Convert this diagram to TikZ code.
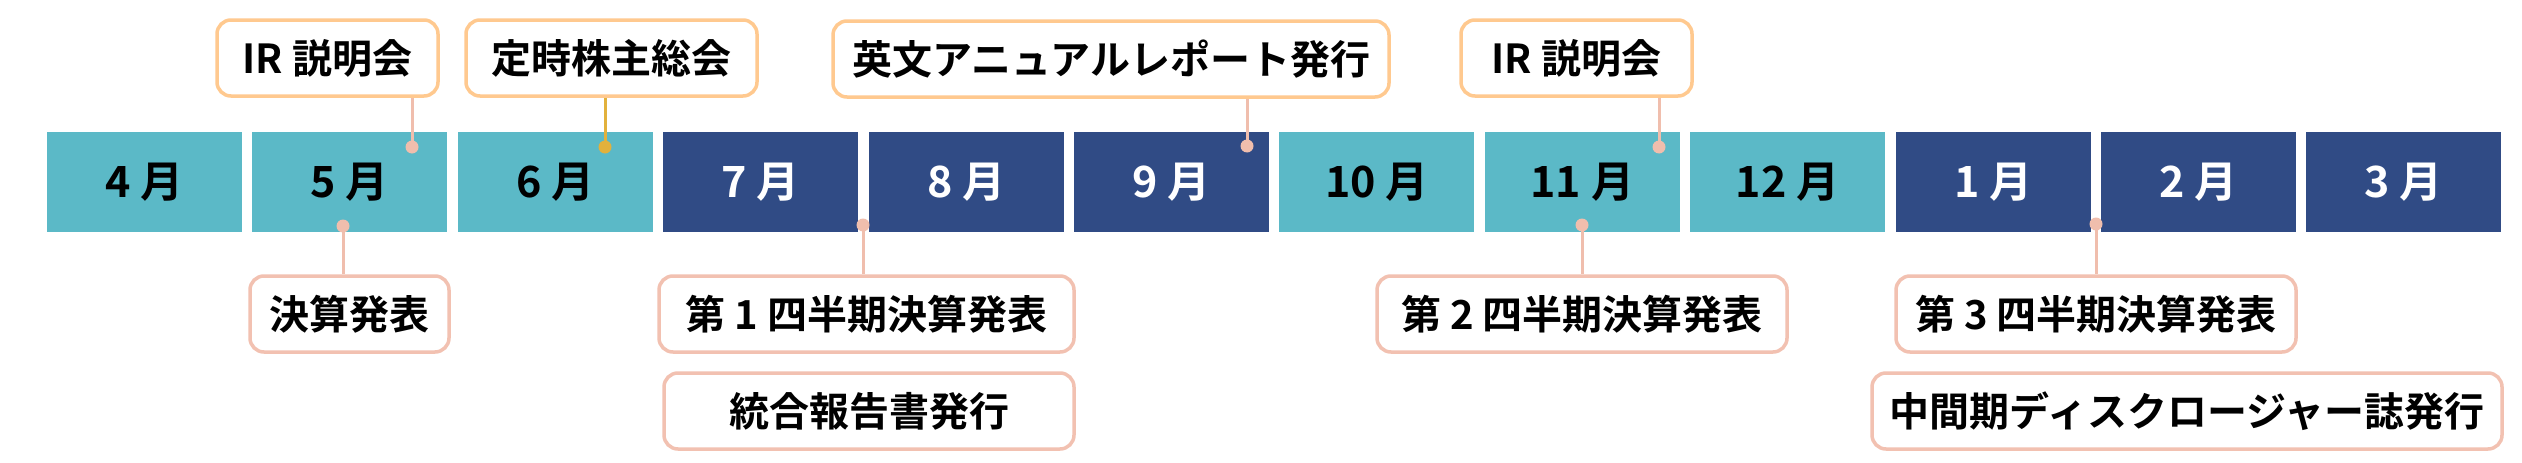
\documentclass[tikz,border=0pt]{standalone}
\usepackage{fontspec}
\usetikzlibrary{shapes.geometric}
\newfontfamily\jp{Noto Sans CJK JP Bold}
\definecolor{teal1}{HTML}{5BB9C7}
\definecolor{navy1}{HTML}{304B85}
\definecolor{orange1}{HTML}{FFC98F}
\definecolor{salmon1}{HTML}{F2C1B1}
\definecolor{pink1}{HTML}{F0BEAD}
\definecolor{gold1}{HTML}{E2B13C}
\begin{document}
\begin{tikzpicture}[x=1pt,y=-1pt,
  month/.style={minimum width=195pt, minimum height=100pt, inner sep=0pt, outer sep=0pt, font=\jp\fontsize{43}{48}\selectfont},
  tealm/.style={month, fill=teal1, text=black},
  navym/.style={month, fill=navy1, text=white},
  callout/.style={draw, line width=3.5pt, rounded corners=14pt, fill=white, inner sep=0pt, minimum height=76pt, font=\jp\fontsize{40}{46}\selectfont},
  topbox/.style={callout, draw=orange1},
  botbox/.style={callout, draw=salmon1},
  dotn/.style={circle, fill=pink1, minimum size=13pt, inner sep=0pt},
  conn/.style={line width=3pt, draw=pink1}
]
\useasboundingbox[fill=white] (0,0) rectangle (2522,463);
% months
\foreach \i/\t/\s in {0/4/tealm,1/5/tealm,2/6/tealm,3/7/navym,4/8/navym,5/9/navym,6/10/tealm,7/11/tealm,8/12/tealm,9/1/navym,10/2/navym,11/3/navym}
  \node[\s] (m\i) at ({144.5+\i*205.4},182) {\t\ 月};
% top callouts
\node[topbox, minimum width=221pt] (ir1) at (327.5,58) {IR 説明会};
\node[topbox, minimum width=291pt] (agm) at (611.5,58) {定時株主総会};
\node[topbox, minimum width=556pt] (ar) at (1111,59) {英文アニュアルレポート発行};
\node[topbox, minimum width=231pt] (ir2) at (1576.5,58) {IR 説明会};
% bottom callouts
\node[botbox, minimum width=199pt] (kes) at (349.5,314) {決算発表};
\node[botbox, minimum width=415pt] (q1) at (866.5,314) {第 1 四半期決算発表};
\node[botbox, minimum width=410pt] (tg) at (869,411) {統合報告書発行};
\node[botbox, minimum width=410pt] (q2) at (1582,314) {第 2 四半期決算発表};
\node[botbox, minimum width=400pt] (q3) at (2096,314) {第 3 四半期決算発表};
\node[botbox, minimum width=630pt] (ch) at (2187,411) {中間期ディスクロージャー誌発行};
% dots
\coordinate (dir1) at (412,147);
\coordinate (dagm) at (605,147);
\coordinate (dar) at (1247,146);
\coordinate (dir2) at (1659,147);
\coordinate (dkes) at (343,226);
\coordinate (dq1) at (863,225);
\coordinate (dq2) at (1582,225);
\coordinate (dq3) at (2096,224);
% connectors
\draw[conn] (dir1 |- ir1.south) -- (dir1);
\draw[conn, draw=gold1] (dagm |- agm.south) -- (dagm);
\draw[conn] (dar |- ar.south) -- (dar);
\draw[conn] (dir2 |- ir2.south) -- (dir2);
\draw[conn] (dkes) -- (dkes |- kes.north);
\draw[conn] (dq1) -- (dq1 |- q1.north);
\draw[conn] (dq2) -- (dq2 |- q2.north);
\draw[conn] (dq3) -- (dq3 |- q3.north);
\node[dotn] (n1) at (dir1) {};
\node[dotn, fill=gold1] (n2) at (dagm) {};
\node[dotn] (n3) at (dar) {};
\node[dotn] (n4) at (dir2) {};
\node[dotn] (n5) at (dkes) {};
\node[dotn] (n6) at (dq1) {};
\node[dotn] (n7) at (dq2) {};
\node[dotn] (n8) at (dq3) {};
\end{tikzpicture}
\end{document}
